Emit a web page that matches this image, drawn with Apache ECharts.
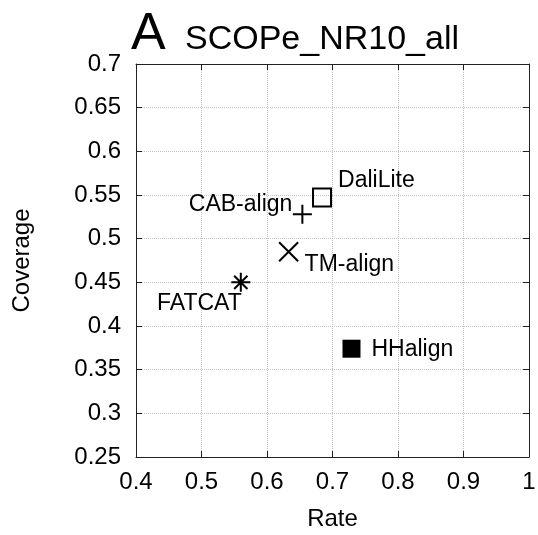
<!DOCTYPE html>
<html>
<head>
<meta charset="utf-8">
<script src="https://cdn.jsdelivr.net/npm/echarts@6/dist/echarts.min.js"></script>
<style>
html,body{margin:0;padding:0;background:#fff;}
#chart{width:538px;height:535px;}
</style>
</head>
<body>
<div id="chart"></div>
<script>
// ---- data ----
const methods = ['DaliLite', 'CAB-align', 'TM-align', 'FATCAT', 'HHalign'];
const rate = [0.684, 0.654, 0.633, 0.560, 0.729];
const coverage = [0.547, 0.528, 0.485, 0.450, 0.374];
const xTicks = [0.4, 0.5, 0.6, 0.7, 0.8, 0.9, 1];
const yTicks = [0.25, 0.3, 0.35, 0.4, 0.45, 0.5, 0.55, 0.6, 0.65, 0.7];

// ---- style (not data) ----
const FONT = '"Liberation Sans", Arial, Helvetica, sans-serif';
const symbols = [
  'path://M0,0L10,0L10,10L0,10Z',
  'path://M5,0L5,10M0,5L10,5',
  'path://M0,0L10,10M10,0L0,10',
  'path://M5,0L5,10M0,5L10,5M1.5,1.5L8.5,8.5M8.5,1.5L1.5,8.5',
  'rect'
];
const symbolSizes = [18, 19, 19, 19, 18];
const filled = [false, false, false, false, true];
const labelAlign = ['left', 'right', 'left', 'right', 'left'];
const labelOffset = [[16, -17], [-10, -10], [16, 13], [1, 21], [20, 1]];

const chart = echarts.init(document.getElementById('chart'), null, {renderer: 'canvas'});

const axisLineStyle = {color: '#222', width: 1};
const series = methods.map((m, i) => ({
  name: m,
  type: 'scatter',
  xAxisIndex: 0,
  yAxisIndex: 0,
  symbol: symbols[i],
  symbolSize: symbolSizes[i],
  itemStyle: filled[i]
    ? {color: '#000', borderWidth: 0, opacity: 1}
    : {color: 'rgba(0,0,0,0)', borderColor: '#000', borderWidth: 2, opacity: 1},
  label: {
    show: true,
    formatter: m,
    position: 'inside',
    align: labelAlign[i],
    verticalAlign: 'middle',
    offset: labelOffset[i],
    fontSize: 23,
    fontFamily: FONT,
    color: '#000'
  },
  emphasis: {disabled: true},
  data: [[rate[i], coverage[i]]]
}));

chart.setOption({
  backgroundColor: '#fff',
  animation: false,
  textStyle: {fontFamily: FONT},
  title: [
    {text: 'A', left: 131, top: 9, padding: 0, textStyle: {fontSize: 52, fontWeight: 'normal', color: '#000', fontFamily: FONT, lineHeight: 52}},
    {text: 'SCOPe_NR10_all', left: 185, top: 23, padding: 0, textStyle: {fontSize: 34, fontWeight: 'normal', color: '#000', fontFamily: FONT, lineHeight: 34}}
  ],
  grid: {left: 136, right: 9, top: 64, bottom: 78, containLabel: false, outerBoundsMode: 'none'},
  xAxis: [
    {
      type: 'value', position: 'bottom',
      min: xTicks[0], max: xTicks[xTicks.length - 1], interval: 0.1,
      axisLine: {show: true, lineStyle: axisLineStyle},
      axisTick: {show: true, inside: true, length: 6, lineStyle: axisLineStyle},
      axisLabel: {fontSize: 24, color: '#000', margin: 13, fontFamily: FONT,
        formatter: v => String(+v.toFixed(2))},
      splitLine: {show: true, lineStyle: {type: 'dotted', color: '#c4c4c4', width: 1}},
      name: 'Rate', nameLocation: 'middle', nameGap: 50,
      nameTextStyle: {fontSize: 24, color: '#000', fontFamily: FONT}
    },
    {
      type: 'value', position: 'top',
      min: xTicks[0], max: xTicks[xTicks.length - 1], interval: 0.1,
      axisLine: {show: true, lineStyle: axisLineStyle},
      axisTick: {show: true, inside: true, length: 6, lineStyle: axisLineStyle},
      axisLabel: {show: false},
      splitLine: {show: false}
    }
  ],
  yAxis: [
    {
      type: 'value', position: 'left',
      min: yTicks[0], max: yTicks[yTicks.length - 1], interval: 0.05,
      axisLine: {show: true, lineStyle: axisLineStyle},
      axisTick: {show: true, inside: true, length: 6, lineStyle: axisLineStyle},
      axisLabel: {fontSize: 24, color: '#000', margin: 15, fontFamily: FONT,
        formatter: v => String(+v.toFixed(2))},
      splitLine: {show: true, lineStyle: {type: 'dotted', color: '#c4c4c4', width: 1}},
      name: 'Coverage', nameLocation: 'middle', nameGap: 102,
      nameTextStyle: {fontSize: 24, color: '#000', fontFamily: FONT}
    },
    {
      type: 'value', position: 'right',
      min: yTicks[0], max: yTicks[yTicks.length - 1], interval: 0.05,
      axisLine: {show: true, lineStyle: axisLineStyle},
      axisTick: {show: true, inside: true, length: 6, lineStyle: axisLineStyle},
      axisLabel: {show: false},
      splitLine: {show: false}
    }
  ],
  series: series
});
</script>
</body>
</html>
